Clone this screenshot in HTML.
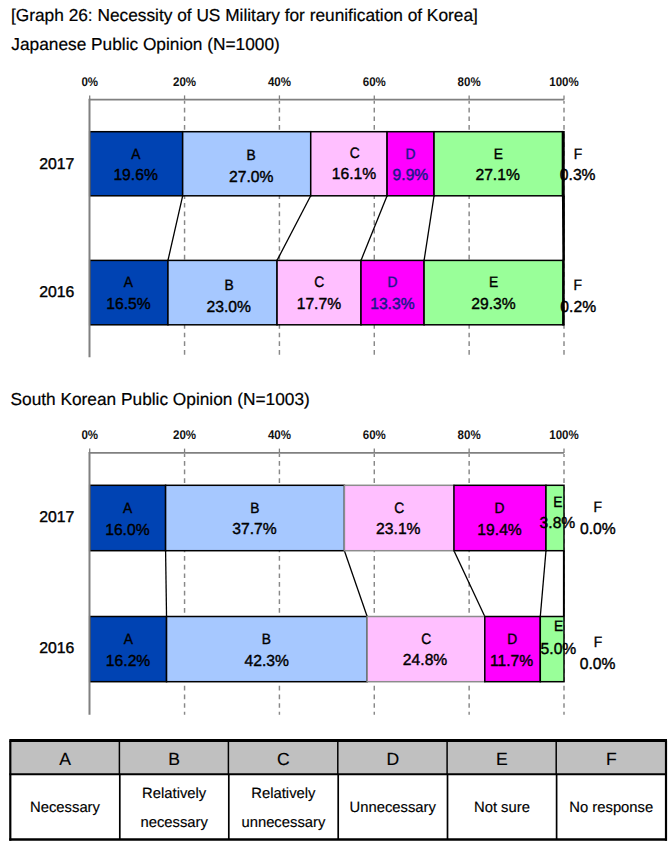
<!DOCTYPE html>
<html><head><meta charset="utf-8"><style>
html,body{margin:0;padding:0;background:#fff;width:670px;height:852px;overflow:hidden;}
body{position:relative;font-family:"Liberation Sans", sans-serif;}
</style></head><body>
<svg width="670" height="852" viewBox="0 0 670 852" style="position:absolute;left:0;top:0" text-rendering="geometricPrecision" font-family='"Liberation Sans", sans-serif'>
<rect x="0" y="0" width="670" height="852" fill="#fff"/>
<text x="11.0" y="20.8" font-size="17.3" fill="#000" stroke="#000" stroke-width="0.2">[Graph 26: Necessity of US Military for reunification of Korea]</text>
<text x="11.3" y="50.3" font-size="17.3" fill="#000" stroke="#000" stroke-width="0.2">Japanese Public Opinion (N=1000)</text>
<text x="10.5" y="405.3" font-size="17.3" fill="#000" stroke="#000" stroke-width="0.2">South Korean Public Opinion (N=1003)</text>
<line x1="184.56" y1="100.70" x2="184.56" y2="357.30" stroke="#888888" stroke-width="1.45" stroke-dasharray="4.7 3.95" stroke-dashoffset="1.6"/>
<line x1="279.42" y1="100.70" x2="279.42" y2="357.30" stroke="#888888" stroke-width="1.45" stroke-dasharray="4.7 3.95" stroke-dashoffset="1.6"/>
<line x1="374.28" y1="100.70" x2="374.28" y2="357.30" stroke="#888888" stroke-width="1.45" stroke-dasharray="4.7 3.95" stroke-dashoffset="1.6"/>
<line x1="469.14" y1="100.70" x2="469.14" y2="357.30" stroke="#888888" stroke-width="1.45" stroke-dasharray="4.7 3.95" stroke-dashoffset="1.6"/>
<line x1="564.00" y1="100.70" x2="564.00" y2="357.30" stroke="#888888" stroke-width="1.45" stroke-dasharray="4.7 3.95" stroke-dashoffset="1.6"/>
<line x1="89.70" y1="95.40" x2="89.70" y2="99.70" stroke="#808080" stroke-width="1.3"/>
<line x1="184.56" y1="95.40" x2="184.56" y2="99.70" stroke="#808080" stroke-width="1.3"/>
<line x1="279.42" y1="95.40" x2="279.42" y2="99.70" stroke="#808080" stroke-width="1.3"/>
<line x1="374.28" y1="95.40" x2="374.28" y2="99.70" stroke="#808080" stroke-width="1.3"/>
<line x1="469.14" y1="95.40" x2="469.14" y2="99.70" stroke="#808080" stroke-width="1.3"/>
<line x1="564.00" y1="95.40" x2="564.00" y2="99.70" stroke="#808080" stroke-width="1.3"/>
<text transform="translate(89.70,86.00) scale(0.9150,1)" font-size="12.60" fill="#111" text-anchor="middle" font-weight="bold">0%</text>
<text transform="translate(184.56,86.00) scale(0.9150,1)" font-size="12.60" fill="#111" text-anchor="middle" font-weight="bold">20%</text>
<text transform="translate(279.42,86.00) scale(0.9150,1)" font-size="12.60" fill="#111" text-anchor="middle" font-weight="bold">40%</text>
<text transform="translate(374.28,86.00) scale(0.9150,1)" font-size="12.60" fill="#111" text-anchor="middle" font-weight="bold">60%</text>
<text transform="translate(469.14,86.00) scale(0.9150,1)" font-size="12.60" fill="#111" text-anchor="middle" font-weight="bold">80%</text>
<text transform="translate(564.00,86.00) scale(0.9150,1)" font-size="12.60" fill="#111" text-anchor="middle" font-weight="bold">100%</text>
<line x1="88.90" y1="99.70" x2="564.00" y2="99.70" stroke="#808080" stroke-width="1.8"/>
<line x1="182.66" y1="195.80" x2="167.96" y2="260.40" stroke="#000" stroke-width="1.3"/>
<line x1="310.72" y1="195.80" x2="277.05" y2="260.40" stroke="#000" stroke-width="1.3"/>
<line x1="387.09" y1="195.80" x2="361.00" y2="260.40" stroke="#000" stroke-width="1.3"/>
<line x1="434.04" y1="195.80" x2="424.08" y2="260.40" stroke="#000" stroke-width="1.3"/>
<line x1="562.58" y1="195.80" x2="563.05" y2="260.40" stroke="#000" stroke-width="1.3"/>
<line x1="563.90" y1="195.80" x2="563.90" y2="260.40" stroke="#000" stroke-width="2.0"/>
<rect x="89.70" y="131.70" width="92.96" height="64.10" fill="#0043B3" stroke="#000" stroke-width="1.5"/>
<rect x="182.66" y="131.70" width="128.06" height="64.10" fill="#A6C8FF" stroke="#000" stroke-width="1.5"/>
<rect x="310.72" y="131.70" width="76.36" height="64.10" fill="#FFBFFF" stroke="#000" stroke-width="1.5"/>
<rect x="387.09" y="131.70" width="46.96" height="64.10" fill="#FF00FF" stroke="#000" stroke-width="1.5"/>
<rect x="434.04" y="131.70" width="128.54" height="64.10" fill="#99FF99" stroke="#000" stroke-width="1.5"/>
<rect x="562.58" y="131.70" width="1.42" height="64.10" fill="#FFFFFF" stroke="#000" stroke-width="1.5"/>
<text transform="translate(56.84,168.77) scale(1.0103,1)" font-size="15.64" fill="#000" text-anchor="middle" font-weight="normal" stroke="#000" stroke-width="0.4">2017</text>
<text transform="translate(135.77,159.13) scale(0.9154,1)" font-size="15.07" fill="#000" text-anchor="middle" font-weight="normal" stroke="#000" stroke-width="0.4">A</text>
<text transform="translate(251.15,159.88) scale(0.9154,1)" font-size="15.07" fill="#000" text-anchor="middle" font-weight="normal" stroke="#000" stroke-width="0.4">B</text>
<text transform="translate(354.62,157.97) scale(0.9154,1)" font-size="15.07" fill="#000" text-anchor="middle" font-weight="normal" stroke="#000" stroke-width="0.4">C</text>
<text transform="translate(410.41,159.08) scale(0.9154,1)" font-size="15.07" fill="#18188A" text-anchor="middle" font-weight="normal" stroke="#18188A" stroke-width="0.45">D</text>
<text transform="translate(498.24,159.08) scale(0.9154,1)" font-size="15.07" fill="#000" text-anchor="middle" font-weight="normal" stroke="#000" stroke-width="0.4">E</text>
<text transform="translate(577.89,158.98) scale(0.9154,1)" font-size="15.07" fill="#000" text-anchor="middle" font-weight="normal" stroke="#000" stroke-width="0.4">F</text>
<text transform="translate(135.59,180.40) scale(0.9825,1)" font-size="15.96" fill="#000" text-anchor="middle" font-weight="normal" stroke="#000" stroke-width="0.4">19.6%</text>
<text transform="translate(251.23,182.34) scale(0.9825,1)" font-size="15.96" fill="#000" text-anchor="middle" font-weight="normal" stroke="#000" stroke-width="0.4">27.0%</text>
<text transform="translate(353.97,178.75) scale(0.9825,1)" font-size="15.96" fill="#000" text-anchor="middle" font-weight="normal" stroke="#000" stroke-width="0.4">16.1%</text>
<text transform="translate(410.44,180.48) scale(0.9825,1)" font-size="15.96" fill="#18188A" text-anchor="middle" font-weight="normal" stroke="#18188A" stroke-width="0.45">9.9%</text>
<text transform="translate(497.64,180.45) scale(0.9825,1)" font-size="15.96" fill="#000" text-anchor="middle" font-weight="normal" stroke="#000" stroke-width="0.4">27.1%</text>
<text transform="translate(577.69,179.61) scale(0.9825,1)" font-size="15.96" fill="#000" text-anchor="middle" font-weight="normal" stroke="#000" stroke-width="0.4">0.3%</text>
<rect x="89.70" y="260.40" width="78.26" height="64.40" fill="#0043B3" stroke="#000" stroke-width="1.5"/>
<rect x="167.96" y="260.40" width="109.09" height="64.40" fill="#A6C8FF" stroke="#000" stroke-width="1.5"/>
<rect x="277.05" y="260.40" width="83.95" height="64.40" fill="#FFBFFF" stroke="#000" stroke-width="1.5"/>
<rect x="361.00" y="260.40" width="63.08" height="64.40" fill="#FF00FF" stroke="#000" stroke-width="1.5"/>
<rect x="424.08" y="260.40" width="138.97" height="64.40" fill="#99FF99" stroke="#000" stroke-width="1.5"/>
<rect x="563.05" y="260.40" width="0.95" height="64.40" fill="#FFFFFF" stroke="#000" stroke-width="1.5"/>
<line x1="89.50" y1="98.80" x2="89.50" y2="357.30" stroke="#808080" stroke-width="2.0"/>
<text transform="translate(56.78,296.96) scale(1.0103,1)" font-size="15.64" fill="#000" text-anchor="middle" font-weight="normal" stroke="#000" stroke-width="0.4">2016</text>
<text transform="translate(128.38,287.43) scale(0.9154,1)" font-size="15.07" fill="#000" text-anchor="middle" font-weight="normal" stroke="#000" stroke-width="0.4">A</text>
<text transform="translate(229.07,289.88) scale(0.9154,1)" font-size="15.07" fill="#000" text-anchor="middle" font-weight="normal" stroke="#000" stroke-width="0.4">B</text>
<text transform="translate(319.23,287.42) scale(0.9154,1)" font-size="15.07" fill="#000" text-anchor="middle" font-weight="normal" stroke="#000" stroke-width="0.4">C</text>
<text transform="translate(392.57,287.18) scale(0.9154,1)" font-size="15.07" fill="#18188A" text-anchor="middle" font-weight="normal" stroke="#18188A" stroke-width="0.45">D</text>
<text transform="translate(493.57,287.28) scale(0.9154,1)" font-size="15.07" fill="#000" text-anchor="middle" font-weight="normal" stroke="#000" stroke-width="0.4">E</text>
<text transform="translate(577.76,289.57) scale(0.9154,1)" font-size="15.07" fill="#000" text-anchor="middle" font-weight="normal" stroke="#000" stroke-width="0.4">F</text>
<text transform="translate(128.47,308.92) scale(0.9825,1)" font-size="15.96" fill="#000" text-anchor="middle" font-weight="normal" stroke="#000" stroke-width="0.4">16.5%</text>
<text transform="translate(228.67,312.43) scale(0.9825,1)" font-size="15.96" fill="#000" text-anchor="middle" font-weight="normal" stroke="#000" stroke-width="0.4">23.0%</text>
<text transform="translate(318.89,308.91) scale(0.9825,1)" font-size="15.96" fill="#000" text-anchor="middle" font-weight="normal" stroke="#000" stroke-width="0.4">17.7%</text>
<text transform="translate(392.38,309.07) scale(0.9825,1)" font-size="15.96" fill="#18188A" text-anchor="middle" font-weight="normal" stroke="#18188A" stroke-width="0.45">13.3%</text>
<text transform="translate(493.42,308.82) scale(0.9825,1)" font-size="15.96" fill="#000" text-anchor="middle" font-weight="normal" stroke="#000" stroke-width="0.4">29.3%</text>
<text transform="translate(578.24,312.38) scale(0.9825,1)" font-size="15.96" fill="#000" text-anchor="middle" font-weight="normal" stroke="#000" stroke-width="0.4">0.2%</text>
<line x1="184.56" y1="453.90" x2="184.56" y2="714.80" stroke="#888888" stroke-width="1.45" stroke-dasharray="4.7 3.95" stroke-dashoffset="1.6"/>
<line x1="279.42" y1="453.90" x2="279.42" y2="714.80" stroke="#888888" stroke-width="1.45" stroke-dasharray="4.7 3.95" stroke-dashoffset="1.6"/>
<line x1="374.28" y1="453.90" x2="374.28" y2="714.80" stroke="#888888" stroke-width="1.45" stroke-dasharray="4.7 3.95" stroke-dashoffset="1.6"/>
<line x1="469.14" y1="453.90" x2="469.14" y2="714.80" stroke="#888888" stroke-width="1.45" stroke-dasharray="4.7 3.95" stroke-dashoffset="1.6"/>
<line x1="564.00" y1="453.90" x2="564.00" y2="714.80" stroke="#888888" stroke-width="1.45" stroke-dasharray="4.7 3.95" stroke-dashoffset="1.6"/>
<line x1="89.70" y1="448.60" x2="89.70" y2="452.90" stroke="#808080" stroke-width="1.3"/>
<line x1="184.56" y1="448.60" x2="184.56" y2="452.90" stroke="#808080" stroke-width="1.3"/>
<line x1="279.42" y1="448.60" x2="279.42" y2="452.90" stroke="#808080" stroke-width="1.3"/>
<line x1="374.28" y1="448.60" x2="374.28" y2="452.90" stroke="#808080" stroke-width="1.3"/>
<line x1="469.14" y1="448.60" x2="469.14" y2="452.90" stroke="#808080" stroke-width="1.3"/>
<line x1="564.00" y1="448.60" x2="564.00" y2="452.90" stroke="#808080" stroke-width="1.3"/>
<text transform="translate(89.70,439.20) scale(0.9150,1)" font-size="12.60" fill="#111" text-anchor="middle" font-weight="bold">0%</text>
<text transform="translate(184.56,439.20) scale(0.9150,1)" font-size="12.60" fill="#111" text-anchor="middle" font-weight="bold">20%</text>
<text transform="translate(279.42,439.20) scale(0.9150,1)" font-size="12.60" fill="#111" text-anchor="middle" font-weight="bold">40%</text>
<text transform="translate(374.28,439.20) scale(0.9150,1)" font-size="12.60" fill="#111" text-anchor="middle" font-weight="bold">60%</text>
<text transform="translate(469.14,439.20) scale(0.9150,1)" font-size="12.60" fill="#111" text-anchor="middle" font-weight="bold">80%</text>
<text transform="translate(564.00,439.20) scale(0.9150,1)" font-size="12.60" fill="#111" text-anchor="middle" font-weight="bold">100%</text>
<line x1="88.90" y1="452.90" x2="564.00" y2="452.90" stroke="#808080" stroke-width="1.8"/>
<line x1="165.59" y1="550.70" x2="166.54" y2="616.50" stroke="#000" stroke-width="1.3"/>
<line x1="344.40" y1="550.70" x2="367.17" y2="616.50" stroke="#000" stroke-width="1.3"/>
<line x1="453.96" y1="550.70" x2="484.79" y2="616.50" stroke="#000" stroke-width="1.3"/>
<line x1="545.98" y1="550.70" x2="540.29" y2="616.50" stroke="#000" stroke-width="1.3"/>
<line x1="563.90" y1="550.70" x2="563.90" y2="616.50" stroke="#000" stroke-width="2.0"/>
<rect x="89.70" y="485.30" width="75.89" height="65.40" fill="#0043B3" stroke="#000" stroke-width="1.5"/>
<rect x="165.59" y="485.30" width="178.81" height="65.40" fill="#A6C8FF" stroke="#000" stroke-width="1.5"/>
<rect x="344.40" y="485.30" width="109.56" height="65.40" fill="#FFBFFF" stroke="#8c8c8c" stroke-width="1.5"/>
<rect x="453.96" y="485.30" width="92.01" height="65.40" fill="#FF00FF" stroke="#000" stroke-width="1.5"/>
<rect x="545.98" y="485.30" width="18.02" height="65.40" fill="#99FF99" stroke="#000" stroke-width="1.5"/>
<text transform="translate(56.84,521.87) scale(1.0103,1)" font-size="15.64" fill="#000" text-anchor="middle" font-weight="normal" stroke="#000" stroke-width="0.4">2017</text>
<text transform="translate(127.53,513.15) scale(0.9154,1)" font-size="15.07" fill="#000" text-anchor="middle" font-weight="normal" stroke="#000" stroke-width="0.4">A</text>
<text transform="translate(254.87,512.78) scale(0.9154,1)" font-size="15.07" fill="#000" text-anchor="middle" font-weight="normal" stroke="#000" stroke-width="0.4">B</text>
<text transform="translate(399.23,512.92) scale(0.9154,1)" font-size="15.07" fill="#000" text-anchor="middle" font-weight="normal" stroke="#000" stroke-width="0.4">C</text>
<text transform="translate(499.43,512.68) scale(0.9154,1)" font-size="15.07" fill="#000" text-anchor="middle" font-weight="normal" stroke="#000" stroke-width="0.4">D</text>
<text transform="translate(557.87,506.69) scale(0.9154,1)" font-size="15.07" fill="#000" text-anchor="middle" font-weight="normal" stroke="#000" stroke-width="0.4">E</text>
<text transform="translate(597.76,512.47) scale(0.9154,1)" font-size="15.07" fill="#000" text-anchor="middle" font-weight="normal" stroke="#000" stroke-width="0.4">F</text>
<text transform="translate(127.38,534.88) scale(0.9825,1)" font-size="15.96" fill="#000" text-anchor="middle" font-weight="normal" stroke="#000" stroke-width="0.4">16.0%</text>
<text transform="translate(254.47,533.90) scale(0.9825,1)" font-size="15.96" fill="#000" text-anchor="middle" font-weight="normal" stroke="#000" stroke-width="0.4">37.7%</text>
<text transform="translate(398.32,534.28) scale(0.9825,1)" font-size="15.96" fill="#000" text-anchor="middle" font-weight="normal" stroke="#000" stroke-width="0.4">23.1%</text>
<text transform="translate(499.58,534.90) scale(0.9825,1)" font-size="15.96" fill="#000" text-anchor="middle" font-weight="normal" stroke="#000" stroke-width="0.4">19.4%</text>
<text transform="translate(557.44,528.27) scale(0.9825,1)" font-size="15.96" fill="#000" text-anchor="middle" font-weight="normal" stroke="#000" stroke-width="0.4">3.8%</text>
<text transform="translate(597.83,534.33) scale(0.9825,1)" font-size="15.96" fill="#000" text-anchor="middle" font-weight="normal" stroke="#000" stroke-width="0.4">0.0%</text>
<rect x="89.70" y="616.50" width="76.84" height="65.20" fill="#0043B3" stroke="#000" stroke-width="1.5"/>
<rect x="166.54" y="616.50" width="200.63" height="65.20" fill="#A6C8FF" stroke="#000" stroke-width="1.5"/>
<rect x="367.17" y="616.50" width="117.63" height="65.20" fill="#FFBFFF" stroke="#8c8c8c" stroke-width="1.5"/>
<rect x="484.79" y="616.50" width="55.49" height="65.20" fill="#FF00FF" stroke="#000" stroke-width="1.5"/>
<rect x="540.29" y="616.50" width="23.71" height="65.20" fill="#99FF99" stroke="#000" stroke-width="1.5"/>
<line x1="89.50" y1="452.00" x2="89.50" y2="714.80" stroke="#808080" stroke-width="2.0"/>
<text transform="translate(56.70,653.26) scale(1.0103,1)" font-size="15.64" fill="#000" text-anchor="middle" font-weight="normal" stroke="#000" stroke-width="0.4">2016</text>
<text transform="translate(128.24,643.99) scale(0.9154,1)" font-size="15.07" fill="#000" text-anchor="middle" font-weight="normal" stroke="#000" stroke-width="0.4">A</text>
<text transform="translate(266.46,644.18) scale(0.9154,1)" font-size="15.07" fill="#000" text-anchor="middle" font-weight="normal" stroke="#000" stroke-width="0.4">B</text>
<text transform="translate(426.31,644.29) scale(0.9154,1)" font-size="15.07" fill="#000" text-anchor="middle" font-weight="normal" stroke="#000" stroke-width="0.4">C</text>
<text transform="translate(512.14,644.28) scale(0.9154,1)" font-size="15.07" fill="#000" text-anchor="middle" font-weight="normal" stroke="#000" stroke-width="0.4">D</text>
<text transform="translate(558.48,631.48) scale(0.9154,1)" font-size="15.07" fill="#000" text-anchor="middle" font-weight="normal" stroke="#000" stroke-width="0.4">E</text>
<text transform="translate(598.04,646.77) scale(0.9154,1)" font-size="15.07" fill="#000" text-anchor="middle" font-weight="normal" stroke="#000" stroke-width="0.4">F</text>
<text transform="translate(128.05,665.66) scale(0.9825,1)" font-size="15.96" fill="#000" text-anchor="middle" font-weight="normal" stroke="#000" stroke-width="0.4">16.2%</text>
<text transform="translate(266.67,665.67) scale(0.9825,1)" font-size="15.96" fill="#000" text-anchor="middle" font-weight="normal" stroke="#000" stroke-width="0.4">42.3%</text>
<text transform="translate(425.05,665.17) scale(0.9825,1)" font-size="15.96" fill="#000" text-anchor="middle" font-weight="normal" stroke="#000" stroke-width="0.4">24.8%</text>
<text transform="translate(511.57,665.72) scale(0.9825,1)" font-size="15.96" fill="#000" text-anchor="middle" font-weight="normal" stroke="#000" stroke-width="0.4">11.7%</text>
<text transform="translate(558.45,654.13) scale(0.9825,1)" font-size="15.96" fill="#000" text-anchor="middle" font-weight="normal" stroke="#000" stroke-width="0.4">5.0%</text>
<text transform="translate(597.56,669.25) scale(0.9825,1)" font-size="15.96" fill="#000" text-anchor="middle" font-weight="normal" stroke="#000" stroke-width="0.4">0.0%</text>
<rect x="10.30" y="742.00" width="655.70" height="32.30" fill="#C0C0C0"/>
<line x1="9.30" y1="740.50" x2="667.00" y2="740.50" stroke="#000" stroke-width="3"/>
<line x1="9.30" y1="774.30" x2="667.00" y2="774.30" stroke="#000" stroke-width="2"/>
<line x1="9.30" y1="839.50" x2="667.00" y2="839.50" stroke="#000" stroke-width="2.4"/>
<line x1="10.30" y1="740.50" x2="10.30" y2="840.70" stroke="#000" stroke-width="2.2"/>
<line x1="119.40" y1="740.50" x2="119.40" y2="774.30" stroke="#000" stroke-width="1.5"/>
<line x1="119.80" y1="774.30" x2="119.80" y2="839.50" stroke="#000" stroke-width="1.7"/>
<line x1="228.40" y1="740.50" x2="228.40" y2="774.30" stroke="#000" stroke-width="1.5"/>
<line x1="228.80" y1="774.30" x2="228.80" y2="839.50" stroke="#000" stroke-width="1.7"/>
<line x1="337.80" y1="740.50" x2="337.80" y2="774.30" stroke="#000" stroke-width="1.5"/>
<line x1="338.20" y1="774.30" x2="338.20" y2="839.50" stroke="#000" stroke-width="1.7"/>
<line x1="447.10" y1="740.50" x2="447.10" y2="774.30" stroke="#000" stroke-width="1.5"/>
<line x1="447.50" y1="774.30" x2="447.50" y2="839.50" stroke="#000" stroke-width="1.7"/>
<line x1="556.20" y1="740.50" x2="556.20" y2="774.30" stroke="#000" stroke-width="1.5"/>
<line x1="556.60" y1="774.30" x2="556.60" y2="839.50" stroke="#000" stroke-width="1.7"/>
<line x1="666.00" y1="740.50" x2="666.00" y2="840.70" stroke="#000" stroke-width="2.2"/>
<text x="65.00" y="765.20" font-size="17.60" fill="#000" text-anchor="middle" font-weight="normal" stroke="#000" stroke-width="0.15">A</text>
<text x="65.00" y="812.20" font-size="14.80" fill="#000" text-anchor="middle" font-weight="normal" stroke="#000" stroke-width="0.15">Necessary</text>
<text x="174.20" y="765.20" font-size="17.60" fill="#000" text-anchor="middle" font-weight="normal" stroke="#000" stroke-width="0.15">B</text>
<text x="174.20" y="798.10" font-size="14.80" fill="#000" text-anchor="middle" font-weight="normal" stroke="#000" stroke-width="0.15">Relatively</text>
<text x="174.20" y="827.10" font-size="14.80" fill="#000" text-anchor="middle" font-weight="normal" stroke="#000" stroke-width="0.15">necessary</text>
<text x="283.40" y="765.20" font-size="17.60" fill="#000" text-anchor="middle" font-weight="normal" stroke="#000" stroke-width="0.15">C</text>
<text x="283.40" y="798.10" font-size="14.80" fill="#000" text-anchor="middle" font-weight="normal" stroke="#000" stroke-width="0.15">Relatively</text>
<text x="283.40" y="827.10" font-size="14.80" fill="#000" text-anchor="middle" font-weight="normal" stroke="#000" stroke-width="0.15">unnecessary</text>
<text x="392.75" y="765.20" font-size="17.60" fill="#000" text-anchor="middle" font-weight="normal" stroke="#000" stroke-width="0.15">D</text>
<text x="392.75" y="812.20" font-size="14.80" fill="#000" text-anchor="middle" font-weight="normal" stroke="#000" stroke-width="0.15">Unnecessary</text>
<text x="501.95" y="765.20" font-size="17.60" fill="#000" text-anchor="middle" font-weight="normal" stroke="#000" stroke-width="0.15">E</text>
<text x="501.95" y="812.20" font-size="14.80" fill="#000" text-anchor="middle" font-weight="normal" stroke="#000" stroke-width="0.15">Not sure</text>
<text x="611.25" y="765.20" font-size="17.60" fill="#000" text-anchor="middle" font-weight="normal" stroke="#000" stroke-width="0.15">F</text>
<text x="611.25" y="812.20" font-size="14.80" fill="#000" text-anchor="middle" font-weight="normal" stroke="#000" stroke-width="0.15">No response</text>
</svg>
</body></html>
